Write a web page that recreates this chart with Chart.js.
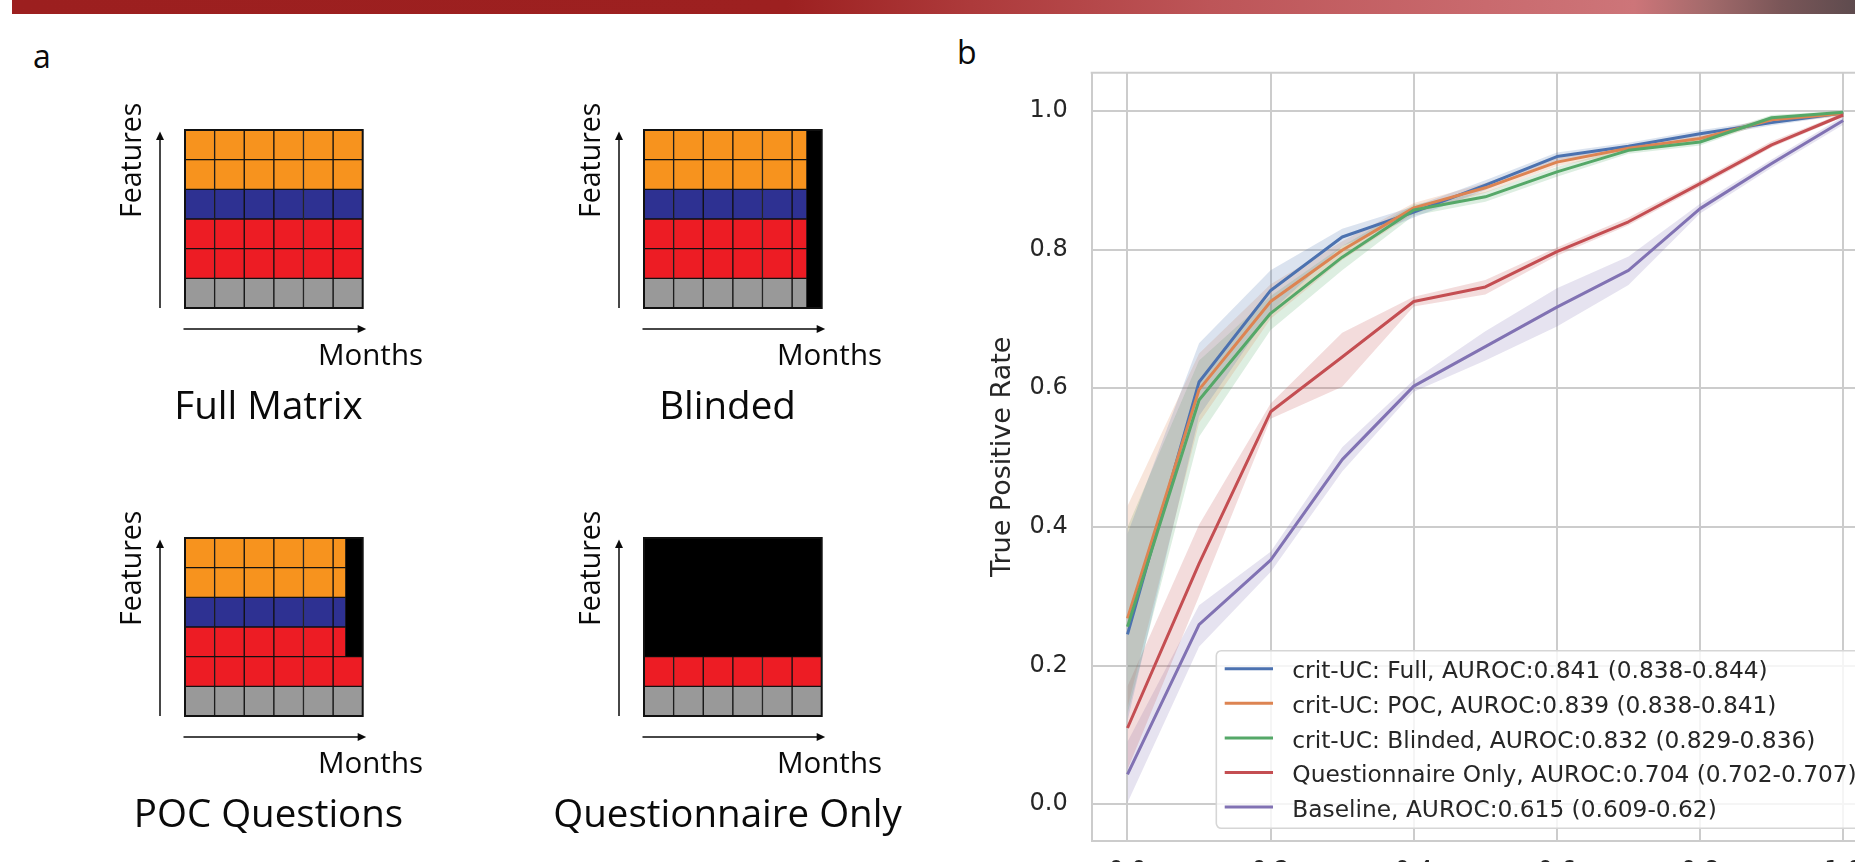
<!DOCTYPE html>
<html>
<head>
<meta charset="utf-8">
<script src="https://cdn.jsdelivr.net/npm/chart.js@4/dist/chart.umd.min.js"></script>
<style>
html,body{margin:0;padding:0;width:1855px;height:862px;overflow:hidden;background:#fff;}
#header{position:absolute;left:12px;top:0;width:1843px;height:14px;
  background:linear-gradient(to right,#9c1f1f 0%,#9d2020 42%,#ad3a3b 52%,#bd5558 65%,#c96a6e 80%,#cd7579 88%,#a36a6b 92%,#7a5658 96%,#5e4b4e 100%);}
canvas{position:absolute;}
.plabel{position:absolute;font-family:"Open Sans";font-size:32px;line-height:1;color:#0a0a0a;}
</style>
</head>
<body>
<div id="header"></div>
<div class="plabel" style="left:33px;top:40px;">a</div>
<div class="plabel" style="left:957px;top:36px;">b</div>

<canvas id="m1" width="400" height="380" style="left:95px;top:70px;"></canvas>
<canvas id="m2" width="400" height="380" style="left:554px;top:70px;"></canvas>
<canvas id="m3" width="400" height="380" style="left:95px;top:477.7px;"></canvas>
<canvas id="m4" width="400" height="380" style="left:554px;top:477.7px;"></canvas>
<canvas id="roc" width="960" height="842" style="left:950px;top:60px;"></canvas>

<script>
// ---------------- Panel a data ----------------
const featureRows = ['F1', 'F2', 'F3', 'F4', 'F5', 'F6'];          // top to bottom
const rowColors = ['#F7931E', '#F7931E', '#2E3192', '#ED1C24', '#ED1C24', '#999999'];
const months = ['M1', 'M2', 'M3', 'M4', 'M5', 'M6'];
const panelTitles = ['Full Matrix', 'Blinded', 'POC Questions', 'Questionnaire Only'];
// months of data available per feature row (rest is masked in black)
const fullObserved = [6, 6, 6, 6, 6, 6];
const blindedObserved = [5.5, 5.5, 5.5, 5.5, 5.5, 5.5];
const pocObserved = [5.43, 5.43, 5.43, 5.43, 6, 6];
const questionnaireObserved = [0, 0, 0, 0, 6, 6];

// ---------------- Panel b data ----------------
const fpr = [0, 0.1, 0.2, 0.3, 0.4, 0.5, 0.6, 0.7, 0.8, 0.9, 1.0];
const tickValues = [0, 0.2, 0.4, 0.6, 0.8, 1.0];
const seriesLabels = [
  'crit-UC: Full, AUROC:0.841 (0.838-0.844)',
  'crit-UC: POC, AUROC:0.839 (0.838-0.841)',
  'crit-UC: Blinded, AUROC:0.832 (0.829-0.836)',
  'Questionnaire Only, AUROC:0.704 (0.702-0.707)',
  'Baseline, AUROC:0.615 (0.609-0.62)'
];
const seriesColors = ['#4C72B0', '#DD8452', '#55A868', '#C44E52', '#8172B3'];

const fullTpr   = [0.245, 0.609, 0.741, 0.818, 0.854, 0.893, 0.934, 0.949, 0.967, 0.983, 0.997];
const fullLower = [0.12,  0.560, 0.710, 0.805, 0.846, 0.886, 0.928, 0.944, 0.962, 0.979, 0.994];
const fullUpper = [0.39,  0.665, 0.770, 0.830, 0.862, 0.900, 0.940, 0.954, 0.972, 0.987, 1.000];

const pocTpr   = [0.268, 0.598, 0.725, 0.799, 0.860, 0.889, 0.926, 0.946, 0.960, 0.987, 0.996];
const pocLower = [0.14,  0.550, 0.700, 0.785, 0.852, 0.882, 0.920, 0.941, 0.955, 0.983, 0.992];
const pocUpper = [0.43,  0.650, 0.750, 0.812, 0.867, 0.896, 0.932, 0.951, 0.965, 0.991, 1.000];

const blindTpr   = [0.256, 0.583, 0.708, 0.789, 0.857, 0.876, 0.912, 0.943, 0.955, 0.990, 0.998];
const blindLower = [0.13,  0.530, 0.684, 0.770, 0.849, 0.869, 0.905, 0.938, 0.950, 0.986, 0.995];
const blindUpper = [0.40,  0.640, 0.733, 0.805, 0.865, 0.883, 0.919, 0.948, 0.960, 0.994, 1.000];

const quesTpr   = [0.110, 0.347, 0.566, 0.645, 0.725, 0.746, 0.797, 0.840, 0.895, 0.951, 0.994];
const quesLower = [0.050, 0.300, 0.556, 0.602, 0.718, 0.735, 0.791, 0.835, 0.890, 0.947, 0.991];
const quesUpper = [0.170, 0.403, 0.578, 0.680, 0.732, 0.756, 0.803, 0.846, 0.900, 0.956, 0.997];

const baseTpr   = [0.043, 0.259, 0.352, 0.497, 0.603, 0.660, 0.717, 0.770, 0.859, 0.924, 0.986];
const baseLower = [0.002, 0.227, 0.335, 0.480, 0.595, 0.640, 0.689, 0.749, 0.852, 0.918, 0.980];
const baseUpper = [0.090, 0.287, 0.364, 0.515, 0.612, 0.682, 0.744, 0.790, 0.866, 0.930, 0.992];

// ---------------- Panel a charts ----------------
const matrixDeco = {
  id: 'matrixDeco',
  afterDraw(chart, args, opts) {
    const ctx = chart.ctx, ca = chart.chartArea;
    ctx.save();
    ctx.strokeStyle = '#111';
    ctx.lineWidth = 2;
    ctx.strokeRect(ca.left, ca.top, ca.right - ca.left, ca.bottom - ca.top);
    // arrows
    ctx.fillStyle = '#0a0a0a';
    ctx.strokeStyle = '#0a0a0a';
    ctx.lineWidth = 1.5;
    const ax = ca.left - 25;
    ctx.beginPath(); ctx.moveTo(ax, ca.bottom); ctx.lineTo(ax, ca.top + 8); ctx.stroke();
    ctx.beginPath(); ctx.moveTo(ax, ca.top + 1.5); ctx.lineTo(ax - 4, ca.top + 10); ctx.lineTo(ax + 4, ca.top + 10); ctx.closePath(); ctx.fill();
    const ay = ca.bottom + 21;
    ctx.beginPath(); ctx.moveTo(ca.left - 1.5, ay); ctx.lineTo(ca.right - 4, ay); ctx.stroke();
    ctx.beginPath(); ctx.moveTo(ca.right + 3.5, ay); ctx.lineTo(ca.right - 5, ay - 4); ctx.lineTo(ca.right - 5, ay + 4); ctx.closePath(); ctx.fill();
    // texts
    ctx.textBaseline = 'alphabetic';
    ctx.textAlign = 'left';
    ctx.font = '28.5px "Open Sans"';
    ctx.save();
    ctx.translate(ca.left - 44.3, ca.top + 88);
    ctx.rotate(-Math.PI / 2);
    ctx.fillText('Features', 0, 0);
    ctx.restore();
    ctx.font = '29.5px "Open Sans"';
    ctx.fillText('Months', ca.left + 133, ca.bottom + 57);
    ctx.font = '38.5px "Open Sans"';
    ctx.textAlign = 'center';
    ctx.fillText(opts.title, ca.left + 83.5, ca.bottom + 110.5);
    ctx.restore();
  }
};

function matrixChart(id, observed, title) {
  const datasets = months.map((m, mi) => ({
    label: m,
    data: observed.map(o => Math.max(0, Math.min(1, o - mi))),
    backgroundColor: rowColors,
    borderColor: '#111',
    borderWidth: 1,
    borderSkipped: false
  }));
  datasets.push({
    label: 'masked',
    data: observed.map(o => months.length - o),
    backgroundColor: '#000',
    borderColor: '#000',
    borderWidth: 1,
    borderSkipped: false
  });
  new Chart(document.getElementById(id), {
    type: 'bar',
    data: { labels: featureRows, datasets },
    options: {
      indexAxis: 'y',
      responsive: false,
      animation: false,
      events: [],
      devicePixelRatio: 1,
      layout: { padding: { left: 90, top: 60, right: 132.3, bottom: 142 } },
      datasets: { bar: { categoryPercentage: 1, barPercentage: 1 } },
      scales: {
        x: { stacked: true, min: 0, max: months.length, display: false },
        y: { stacked: true, display: false }
      },
      plugins: { legend: { display: false }, tooltip: { enabled: false }, matrixDeco: { title } }
    },
    plugins: [matrixDeco]
  });
}
matrixChart('m1', fullObserved, panelTitles[0]);
matrixChart('m2', blindedObserved, panelTitles[1]);
matrixChart('m3', pocObserved, panelTitles[2]);
matrixChart('m4', questionnaireObserved, panelTitles[3]);

// ---------------- Panel b chart ----------------
function rgba(hex, a) {
  const n = parseInt(hex.slice(1), 16);
  return `rgba(${(n >> 16) & 255},${(n >> 8) & 255},${n & 255},${a})`;
}
const series = [
  { label: seriesLabels[0], color: seriesColors[0], mean: fullTpr, lo: fullLower, hi: fullUpper },
  { label: seriesLabels[1], color: seriesColors[1], mean: pocTpr, lo: pocLower, hi: pocUpper },
  { label: seriesLabels[2], color: seriesColors[2], mean: blindTpr, lo: blindLower, hi: blindUpper },
  { label: seriesLabels[3], color: seriesColors[3], mean: quesTpr, lo: quesLower, hi: quesUpper },
  { label: seriesLabels[4], color: seriesColors[4], mean: baseTpr, lo: baseLower, hi: baseUpper }
];
const rocDatasets = [];
series.forEach(s => {
  rocDatasets.push({ label: s.label + ' lower', isBand: true, data: fpr.map((x, k) => ({ x, y: s.lo[k] })),
    borderWidth: 0, borderColor: 'transparent', pointRadius: 0, fill: false, order: 50 });
  rocDatasets.push({ label: s.label + ' upper', isBand: true, data: fpr.map((x, k) => ({ x, y: s.hi[k] })),
    borderWidth: 0, borderColor: 'transparent', pointRadius: 0, fill: '-1', backgroundColor: rgba(s.color, 0.2), order: 50 });
});
series.forEach((s, i) => {
  rocDatasets.push({ label: s.label, color: s.color, data: fpr.map((x, k) => ({ x, y: s.mean[k] })),
    borderColor: s.color, borderWidth: 3, pointRadius: 0, fill: false, tension: 0,
    borderJoinStyle: 'round', order: 10 - i });
});

const frameTop = {
  id: 'frameTop',
  beforeDatasetsDraw(chart) {
    const ctx = chart.ctx, ca = chart.chartArea;
    ctx.save();
    ctx.strokeStyle = '#cccccc';
    ctx.lineWidth = 2;
    ctx.beginPath(); ctx.moveTo(ca.left - 1, ca.top); ctx.lineTo(ca.right, ca.top); ctx.stroke();
    ctx.beginPath(); ctx.moveTo(ca.right, ca.top); ctx.lineTo(ca.right, ca.bottom); ctx.stroke();
    ctx.restore();
  }
};
const rocLegend = {
  id: 'rocLegend',
  afterDraw(chart) {
    const ctx = chart.ctx, ca = chart.chartArea;
    const items = chart.data.datasets.filter(d => !d.isBand);
    ctx.save();
    ctx.font = '23.3px "DejaVu Sans"';
    const maxW = Math.max(...items.map(d => ctx.measureText(d.label).width));
    const w = 76 + maxW + 9.3, h = 177.6;
    const right = ca.right - 13, bottom = ca.bottom - 12.7;
    const left = right - w, top = bottom - h;
    ctx.beginPath();
    ctx.roundRect(left, top, w, h, 5);
    ctx.fillStyle = 'rgba(255,255,255,0.8)';
    ctx.fill();
    ctx.strokeStyle = '#d6d6d6';
    ctx.lineWidth = 1.6;
    ctx.stroke();
    items.forEach((d, i) => {
      const cy = top + 18 + i * 34.6;
      ctx.strokeStyle = d.color;
      ctx.lineWidth = 3;
      ctx.beginPath(); ctx.moveTo(left + 8.4, cy); ctx.lineTo(left + 56.7, cy); ctx.stroke();
      ctx.fillStyle = '#262626';
      ctx.textAlign = 'left';
      ctx.textBaseline = 'alphabetic';
      ctx.fillText(d.label, left + 76, cy + 9.6);
    });
    ctx.restore();
  }
};

new Chart(document.getElementById('roc'), {
  type: 'line',
  data: { datasets: rocDatasets },
  options: {
    responsive: false,
    animation: false,
    events: [],
    devicePixelRatio: 1,
    layout: { padding: { top: 12.7, right: 31, left: 0, bottom: 0 } },
    scales: {
      x: {
        type: 'linear', min: -0.05, max: 1.05,
        afterBuildTicks: s => { s.ticks = tickValues.map(v => ({ value: v })); },
        afterFit: s => { s.height = 61; s.paddingLeft = 0; s.paddingRight = 0; },
        grid: { color: '#cccccc', lineWidth: 2, drawTicks: false },
        border: { display: true, color: '#cccccc', width: 2 },
        ticks: { font: { family: 'DejaVu Sans', size: 24 }, color: '#262626', padding: 16,
          maxRotation: 0, autoSkip: false, callback: v => Number(v).toFixed(1) }
      },
      y: {
        type: 'linear', min: -0.053, max: 1.055,
        afterBuildTicks: s => { s.ticks = tickValues.map(v => ({ value: v })); },
        afterFit: s => { s.width = 141.7; s.paddingTop = 0; s.paddingBottom = 0; },
        grid: { color: '#cccccc', lineWidth: 2, drawTicks: false },
        border: { display: true, color: '#cccccc', width: 2 },
        ticks: { font: { family: 'DejaVu Sans', size: 24 }, color: '#262626', padding: 24,
          autoSkip: false, callback: v => Number(v).toFixed(1) },
        title: { display: true, text: 'True Positive Rate', color: '#262626',
          font: { family: 'DejaVu Sans', size: 27 }, padding: { top: 37.2, bottom: 0 } }
      }
    },
    plugins: {
      legend: { display: false },
      tooltip: { enabled: false },
      filler: { drawTime: 'beforeDatasetsDraw' }
    }
  },
  plugins: [frameTop, rocLegend]
});
</script>
</body>
</html>
